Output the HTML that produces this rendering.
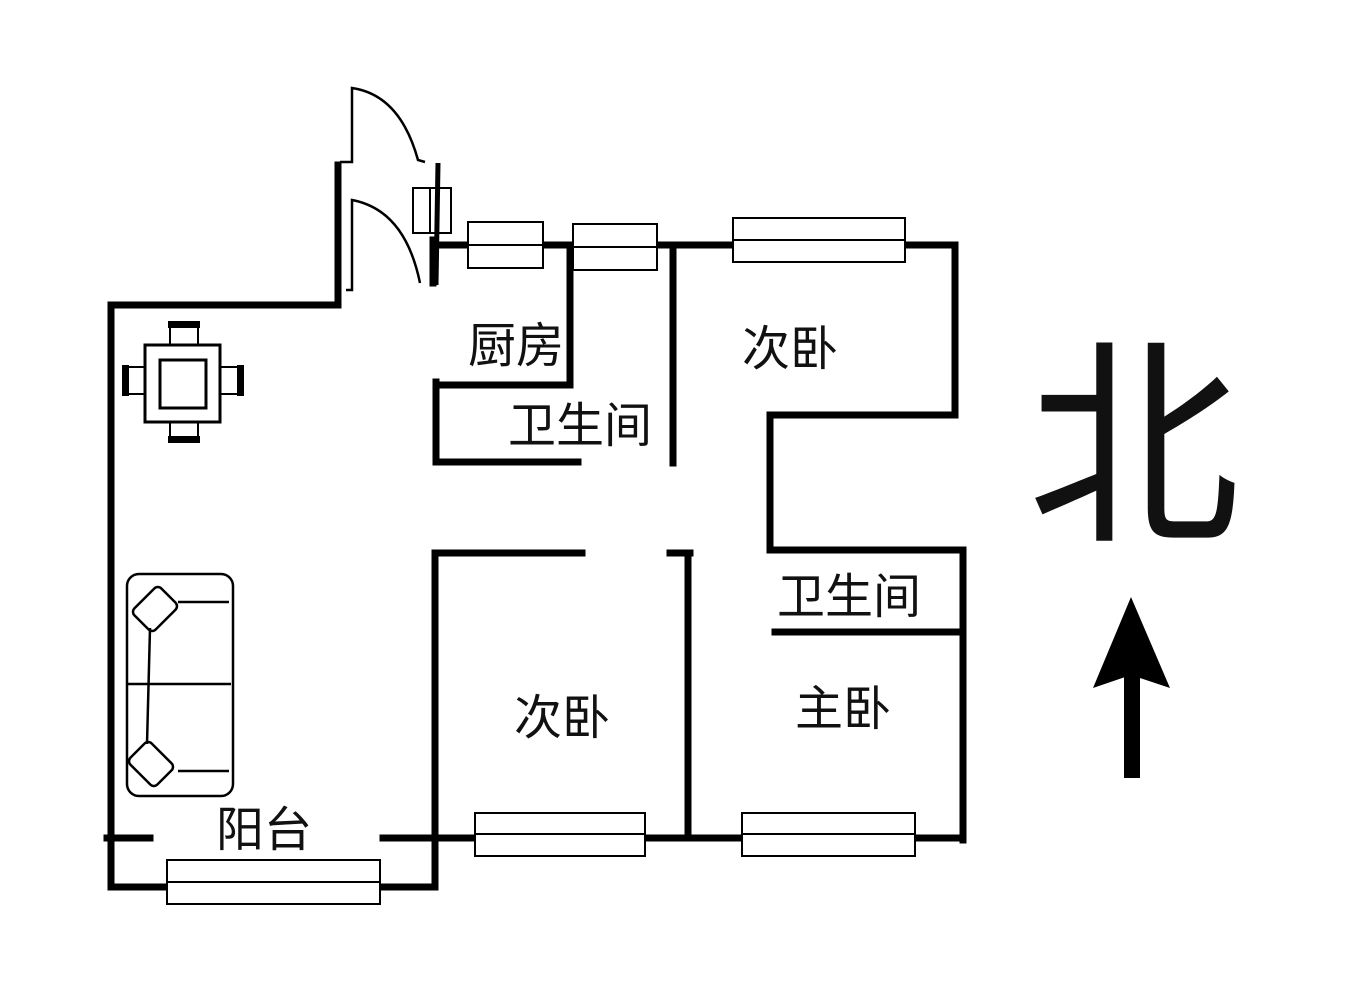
<!DOCTYPE html>
<html><head><meta charset="utf-8"><style>
html,body{margin:0;padding:0;background:#fff;}
svg{display:block}
text{font-family:"Liberation Sans","Noto Sans CJK SC",sans-serif;fill:#111;}
</style></head><body>
<svg width="1351" height="1000" viewBox="0 0 1351 1000" xmlns="http://www.w3.org/2000/svg">
<g stroke="#000" stroke-width="7" fill="none" stroke-linecap="square">
<polyline points="338,165 338,305 111,305 111,887 167,887"/>
<line x1="380" y1="887" x2="435" y2="887"/>
<line x1="435" y1="553" x2="435" y2="887"/>
<line x1="435" y1="553" x2="582" y2="553"/>
<line x1="107" y1="838" x2="150" y2="838"/>
<line x1="383" y1="838" x2="475" y2="838"/>
<line x1="645" y1="838" x2="742" y2="838"/>
<line x1="915" y1="838" x2="963" y2="838"/>
<line x1="433" y1="240" x2="433" y2="283"/>
<line x1="433" y1="245" x2="468" y2="245"/>
<line x1="543" y1="245" x2="573" y2="245"/>
<line x1="657" y1="245" x2="733" y2="245"/>
<polyline points="905,245 955,245 955,415 770,415 770,550 963,550 963,840"/>
<line x1="775" y1="632" x2="963" y2="632"/>
<polyline points="570,245 570,385 436,385"/>
<polyline points="436,382 436,462 578,462"/>
<line x1="673" y1="245" x2="673" y2="463"/>
<line x1="670" y1="553" x2="690" y2="553"/>
<line x1="688" y1="553" x2="688" y2="838"/>
</g>
<g stroke="#000" stroke-width="2" fill="#fff">
<rect x="167" y="860" width="213" height="44"/><line x1="167" y1="882" x2="380" y2="882"/>
<rect x="475" y="813" width="170" height="43"/><line x1="475" y1="834" x2="645" y2="834"/>
<rect x="742" y="813" width="173" height="43"/><line x1="742" y1="834" x2="915" y2="834"/>
<rect x="468" y="222" width="75" height="46"/><line x1="468" y1="245" x2="543" y2="245"/>
<rect x="573" y="224" width="84" height="46"/><line x1="573" y1="247" x2="657" y2="247"/>
<rect x="733" y="218" width="172" height="44"/><line x1="733" y1="240" x2="905" y2="240"/>
<rect x="413" y="188" width="38" height="45"/><line x1="430" y1="188" x2="430" y2="233"/>
</g>
<g stroke="#000" stroke-width="2.5" fill="none">
<path d="M340,162 L352,162 L352,88 Q400,95 418,160 L425,162"/>
<path d="M346,290 L352,290 L352,200 Q405,210 420,283"/>
<line x1="438" y1="163" x2="436" y2="285" stroke-width="5"/>
</g>
<g stroke="#000" fill="#fff">
<rect x="170" y="323" width="28" height="22" stroke-width="2"/>
<rect x="168" y="321" width="32" height="7" fill="#000" stroke="none"/>
<rect x="170" y="422" width="28" height="20" stroke-width="2"/>
<rect x="168" y="436" width="32" height="7" fill="#000" stroke="none"/>
<rect x="125" y="367" width="22" height="27" stroke-width="2"/>
<rect x="122" y="365" width="7" height="31" fill="#000" stroke="none"/>
<rect x="219" y="367" width="22" height="27" stroke-width="2"/>
<rect x="237" y="365" width="7" height="31" fill="#000" stroke="none"/>
<rect x="145" y="345" width="75" height="77" stroke-width="3"/>
<rect x="160" y="360" width="46" height="48" stroke-width="3"/>
</g>
<g stroke="#000" stroke-width="2.5" fill="none">
<rect x="127" y="574" width="106" height="222" rx="12"/>
<line x1="127" y1="684" x2="231" y2="684"/>
<line x1="150" y1="628" x2="147" y2="744"/>
<path d="M178,602 L229,602"/>
<path d="M178,771 L229,771"/>
<rect x="140" y="590" width="30" height="38" rx="5" transform="rotate(45 155 609)"/>
<rect x="136" y="745" width="30" height="38" rx="5" transform="rotate(-45 151 764)"/>
</g>
<g font-size="48">
<text x="468" y="362">厨房</text>
<text x="508" y="442">卫生间</text>
<text x="742" y="365">次卧</text>
<text x="777" y="613">卫生间</text>
<text x="514" y="734">次卧</text>
<text x="795" y="725">主卧</text>
<text x="216" y="846">阳台</text>
</g>
<text x="1028" y="525" font-size="222" textLength="212" lengthAdjust="spacingAndGlyphs">北</text>
<rect x="1124" y="670" width="16" height="108" fill="#000"/>
<polygon points="1131,597 1170,688 1131,675 1093,688" fill="#000"/>
</svg>
</body></html>
